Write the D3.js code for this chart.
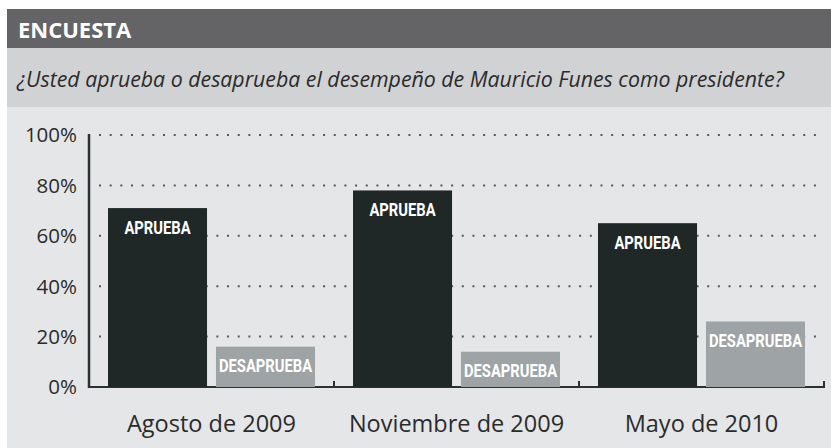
<!DOCTYPE html>
<html>
<head>
<meta charset="utf-8">
<script src="https://cdn.jsdelivr.net/npm/d3@7"></script>
<style>
  body { margin: 0; background: #fff; }
  svg text { font-family: "Open Sans", "Noto Sans", sans-serif; }
</style>
</head>
<body>
<div id="chart"></div>
<script>
// data
const periods = ['Agosto de 2009', 'Noviembre de 2009', 'Mayo de 2010'];
const series = ['APRUEBA', 'DESAPRUEBA'];
const aprueba = [71, 78, 65];
const desaprueba = [16, 14, 26];
const yTicks = [0, 20, 40, 60, 80, 100];

const title = 'ENCUESTA';
const question = '¿Usted aprueba o desaprueba el desempeño de Mauricio Funes como presidente?';

const width = 831, height = 448;
const panel = {left: 7, top: 9};
const plot = {left: 89, right: 824, top: 135, bottom: 387};

const svg = d3.select('#chart').append('svg')
    .attr('width', width)
    .attr('height', height);

// panel backgrounds
svg.append('rect')
    .attr('x', panel.left).attr('y', panel.top)
    .attr('width', width - panel.left).attr('height', height - panel.top)
    .attr('fill', '#e5e6e8');
svg.append('rect')
    .attr('x', panel.left).attr('y', 48)
    .attr('width', width - panel.left).attr('height', 59)
    .attr('fill', '#d1d2d4');
svg.append('rect')
    .attr('x', panel.left).attr('y', panel.top)
    .attr('width', width - panel.left).attr('height', 39)
    .attr('fill', '#646466');

svg.append('text')
    .attr('x', 18).attr('y', 38)
    .attr('fill', '#fff')
    .attr('font-size', 22)
    .attr('font-weight', 700)
    .text(title);

svg.append('text')
    .attr('x', 17).attr('y', 87)
    .attr('fill', '#2b2b2b')
    .attr('font-size', 21.3)
    .attr('font-style', 'italic')
    .text(question);

const x0 = d3.scaleBand().domain(periods).range([plot.left, plot.right]);
const x1 = d3.scaleBand().domain(series).range([0, x0.bandwidth()])
    .paddingInner(0.083).paddingOuter(0.176);
const y = d3.scaleLinear().domain([0, 100]).range([plot.bottom, plot.top]);

const color = d3.scaleOrdinal().domain(series).range(['#202727', '#9ea3a5']);

// dotted grid
svg.append('g')
  .selectAll('line')
  .data(yTicks.filter(d => d > 0))
  .join('line')
    .attr('x1', plot.left + 10).attr('x2', plot.right)
    .attr('y1', d => y(d)).attr('y2', d => y(d))
    .attr('stroke', '#55595a')
    .attr('stroke-width', 2)
    .attr('stroke-dasharray', '2 8.67');

// y labels
svg.append('g')
  .selectAll('text')
  .data(yTicks)
  .join('text')
    .attr('x', 77)
    .attr('y', d => y(d))
    .attr('dy', '0.36em')
    .attr('text-anchor', 'end')
    .attr('font-size', 20.5)
    .attr('fill', '#2b2b2b')
    .text(d => d + '%');

const rows = periods.map((p, i) => ({period: p, values: [
  {key: series[0], value: aprueba[i]},
  {key: series[1], value: desaprueba[i]}
]}));

// axis lines
svg.append('line')
    .attr('x1', plot.left).attr('x2', plot.left)
    .attr('y1', y(100) - 1).attr('y2', y(0) + 1)
    .attr('stroke', '#2b3030').attr('stroke-width', 2.5);
svg.append('line')
    .attr('x1', plot.left).attr('x2', plot.right + 1)
    .attr('y1', y(0)).attr('y2', y(0))
    .attr('stroke', '#2b3030').attr('stroke-width', 2);
svg.append('g')
  .selectAll('line')
  .data(periods)
  .join('line')
    .attr('x1', d => x0(d) + x0.bandwidth()).attr('x2', d => x0(d) + x0.bandwidth())
    .attr('y1', y(0)).attr('y2', y(0) - 6)
    .attr('stroke', '#2b3030').attr('stroke-width', 2);

// bars
const groups = svg.append('g')
  .selectAll('g')
  .data(rows)
  .join('g')
    .attr('transform', d => `translate(${x0(d.period)},0)`);

groups.selectAll('rect')
  .data(d => d.values)
  .join('rect')
    .attr('x', d => x1(d.key))
    .attr('width', x1.bandwidth())
    .attr('y', d => y(d.value))
    .attr('height', d => y(0) - y(d.value))
    .attr('fill', d => color(d.key));

// condensed bar labels (squeezed horizontally)
groups.selectAll('text')
  .data(d => d.values)
  .join('text')
    .attr('transform', d => `translate(${x1(d.key) + x1.bandwidth() / 2},${y(d.value) + 25.5}) scale(0.82,1)`)
    .attr('text-anchor', 'middle')
    .attr('fill', '#fff')
    .attr('font-size', 18)
    .attr('font-weight', 700)
    .style('font-family', 'Roboto, sans-serif')
    .text(d => d.key);

// x labels
svg.append('g')
  .selectAll('text')
  .data(periods)
  .join('text')
    .attr('x', d => x0(d) + x0.bandwidth() / 2)
    .attr('y', 432)
    .attr('text-anchor', 'middle')
    .attr('font-size', 23.5)
    .attr('fill', '#2b2b2b')
    .text(d => d);
</script>
</body>
</html>
